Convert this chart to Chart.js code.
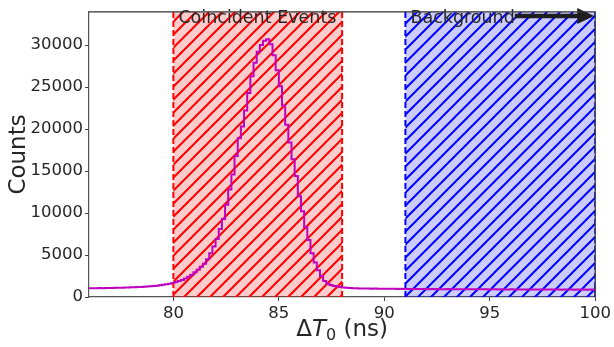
<!DOCTYPE html>
<html>
<head>
<meta charset="utf-8">
<script src="https://cdn.jsdelivr.net/npm/chart.js@4.4.1/dist/chart.umd.min.js"></script>
<style>
  html, body { margin: 0; padding: 0; background: #fff; }
  #c { display: block; }
</style>
</head>
<body>
<canvas id="c" width="614" height="347"></canvas>
<script>
// histogram of Delta T0, bins of 0.15 ns starting at 76 ns
const binStart = 76
const binWidth = 0.15
const counts = [
  1040, 1050, 1030, 1060, 1050, 1070, 1060,
  1080, 1090, 1100, 1090, 1120, 1130, 1150,
  1160, 1180, 1200, 1220, 1250, 1280,
  1310, 1350, 1400, 1450, 1510, 1580, 1660,
  1780, 1900, 2030, 2200, 2400, 2650, 2950, 3250, 3600, 3950,
  4500, 5200, 6000, 6900, 8100, 9300, 11000, 12800, 14600, 16800,
  18900, 20300, 22200, 24300, 26300, 27900, 29200, 30000, 30500, 30700,
  30100, 28800, 27000, 25100, 22800, 20500, 18400, 16400, 14400, 12000,
  10200, 8300, 6800, 5200, 4100, 3200, 2500, 1900, 1600, 1420,
  1320, 1250, 1180, 1120, 1090, 1060, 1050, 1030,
  1020, 1010, 1000, 1010, 990, 1000, 980, 990,
  980, 970, 985, 975, 960, 970, 965, 955,
  960, 950, 945, 955, 940, 950, 935, 945, 930, 940,
  935, 925, 940, 930, 920, 930, 925, 915, 930, 920,
  915, 925, 910, 920, 915, 905, 915, 910, 900, 910,
  905, 895, 910, 900, 895, 905, 890, 900, 895, 885,
  895, 890, 880, 895, 885, 890, 880, 885, 875, 890,
  880, 885, 875, 880, 870, 885, 875, 880, 870
]

// shaded windows
const regionNames = ["Coincident Events", "Background"]
const regionStart = [80, 91]
const regionEnd = [88, 100]

const xTicks = [80, 85, 90, 95, 100]
const yTicks = [0, 5000, 10000, 15000, 20000, 25000, 30000]

const FONT = "DejaVu Sans"
const INK = "#262626"

// step points at left bin edges, plus the closing edge
const points = counts.map((c, i) => ({ x: binStart + i * binWidth, y: c }))
points.push({ x: binStart + counts.length * binWidth, y: counts[counts.length - 1] })

function hatch(color) {
  const n = 13
  const p = document.createElement("canvas")
  p.width = n
  p.height = n
  const g = p.getContext("2d")
  g.strokeStyle = color
  g.lineWidth = 2
  g.beginPath()
  g.moveTo(-n / 2, n / 2); g.lineTo(n / 2, -n / 2)
  g.moveTo(0, n); g.lineTo(n, 0)
  g.moveTo(n / 2, n * 1.5); g.lineTo(n * 1.5, n / 2)
  g.stroke()
  return p
}

const regionFill = ["rgba(255,0,0,0.2)", "rgba(0,0,255,0.2)"]
const regionLine = ["#ff0000", "#0000ff"]

const spans = {
  id: "spans",
  beforeDatasetsDraw(chart) {
    const { ctx, chartArea: a, scales: { x } } = chart
    ctx.save()
    ctx.beginPath()
    ctx.rect(a.left, a.top, a.right - a.left, a.bottom - a.top)
    ctx.clip()
    regionStart.forEach((s, i) => {
      const x0 = x.getPixelForValue(s)
      const x1 = x.getPixelForValue(regionEnd[i])
      ctx.fillStyle = regionFill[i]
      ctx.fillRect(x0, a.top, x1 - x0, a.bottom - a.top)
      ctx.fillStyle = ctx.createPattern(hatch(regionLine[i]), "repeat")
      ctx.fillRect(x0, a.top, x1 - x0, a.bottom - a.top)
      ctx.strokeStyle = regionLine[i]
      ctx.lineWidth = 2
      ctx.setLineDash([6, 3])
      ctx.beginPath()
      ctx.moveTo(x0, a.bottom); ctx.lineTo(x0, a.top)
      ctx.moveTo(x1, a.bottom); ctx.lineTo(x1, a.top)
      ctx.stroke()
      ctx.setLineDash([])
    })
    ctx.restore()
  },
  afterDatasetsDraw(chart) {
    const { ctx, chartArea: a, scales: { x } } = chart
    ctx.save()
    // labels inside the windows
    ctx.font = "17.5px " + FONT
    ctx.fillStyle = INK
    ctx.textBaseline = "alphabetic"
    ctx.textAlign = "left"
    regionNames.forEach((n, i) => {
      ctx.fillText(n, x.getPixelForValue(regionStart[i]) + 5, 22.5)
    })
    // arrow after "Background"
    const ax0 = x.getPixelForValue(regionStart[1]) + 5 + ctx.measureText(regionNames[1]).width
    const ax1 = a.right - 1
    ctx.strokeStyle = "#1e1e1e"
    ctx.fillStyle = "#1e1e1e"
    ctx.lineWidth = 4.5
    ctx.beginPath()
    ctx.moveTo(ax0, 16); ctx.lineTo(ax1 - 12, 16)
    ctx.stroke()
    ctx.beginPath()
    ctx.moveTo(ax1, 16)
    ctx.lineTo(ax1 - 17, 8)
    ctx.lineTo(ax1 - 17, 24)
    ctx.closePath()
    ctx.fill()
    ctx.restore()
  },
  afterDraw(chart) {
    const { ctx, chartArea: a } = chart
    ctx.save()
    // top and right spines
    ctx.strokeStyle = "#333"
    ctx.lineWidth = 1.2
    ctx.beginPath()
    ctx.moveTo(a.left, a.top); ctx.lineTo(a.right, a.top); ctx.lineTo(a.right, a.bottom)
    ctx.stroke()

    // axis titles
    ctx.fillStyle = INK
    ctx.textBaseline = "alphabetic"
    const big = "23px " + FONT
    const parts = [
      { t: "\u0394", f: big, dy: 0 },
      { t: "T", f: "italic 23px " + FONT, dy: 0 },
      { t: "0", f: "16px " + FONT, dy: 4 },
      { t: " (ns)", f: big, dy: 0 }
    ]
    let w = 0
    parts.forEach(p => { ctx.font = p.f; p.w = ctx.measureText(p.t).width; w += p.w })
    let cx = (a.left + a.right) / 2 - w / 2
    parts.forEach(p => {
      ctx.font = p.f
      ctx.textAlign = "left"
      ctx.fillText(p.t, cx, 336 + p.dy)
      cx += p.w
    })

    ctx.translate(25, (a.top + a.bottom) / 2)
    ctx.rotate(-Math.PI / 2)
    ctx.font = big
    ctx.textAlign = "center"
    ctx.fillText("Counts", 0, 0)
    ctx.restore()
  }
}

const tickFont = { family: FONT, size: 16.5 }

new Chart(document.getElementById("c"), {
  type: "line",
  data: {
    datasets: [{
      data: points,
      borderColor: "#bf00bf",
      borderWidth: 2,
      pointRadius: 0,
      stepped: "before",
      fill: false
    }]
  },
  options: {
    responsive: false,
    animation: false,
    layout: { padding: { top: 5, right: 18, left: 0, bottom: 0 } },
    plugins: { legend: { display: false }, tooltip: { enabled: false } },
    scales: {
      x: {
        type: "linear",
        min: 76,
        max: 100,
        afterBuildTicks: s => { s.ticks = xTicks.map(v => ({ value: v })) },
        afterFit: s => { s.height = 50 },
        ticks: { font: tickFont, color: INK, padding: 3, maxRotation: 0, autoSkip: false, callback: v => String(v) },
        grid: { display: true, drawOnChartArea: false, tickLength: 4, color: "#444" },
        border: { display: true, color: "#555", width: 1.2 }
      },
      y: {
        min: 0,
        max: 33950,
        afterBuildTicks: s => { s.ticks = yTicks.map(v => ({ value: v })) },
        afterFit: s => { s.width = 89 },
        ticks: { font: tickFont, color: INK, padding: 2, autoSkip: false, callback: v => String(v) },
        grid: { display: true, drawOnChartArea: false, tickLength: 4, color: "#444" },
        border: { display: true, color: "#555", width: 1.2 }
      }
    }
  },
  plugins: [spans]
})
</script>
</body>
</html>
